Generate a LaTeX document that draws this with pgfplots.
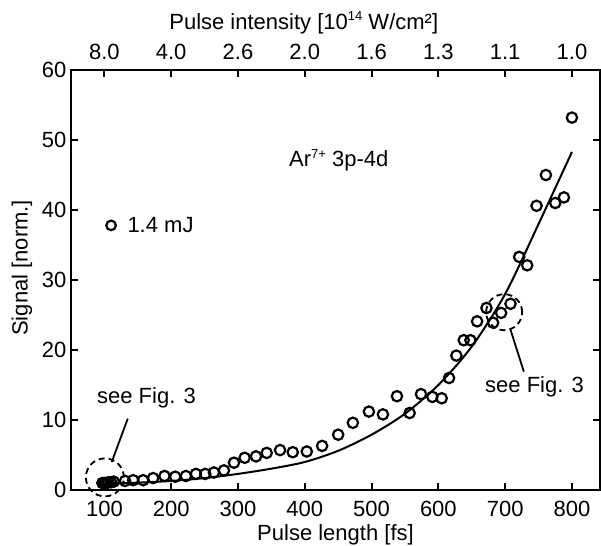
\documentclass[border=0pt]{standalone}
\usepackage{pgfplots}
\pgfplotsset{compat=1.18}
\usepackage{fontspec}
\setmainfont{Liberation Sans}
\newcommand{\sups}[1]{\raisebox{0.75ex}{\fontsize{6.5}{7}\selectfont #1}}

\begin{document}
\fontsize{11}{13}\selectfont
\begin{tikzpicture}
\pgfplotsset{
  common/.style={
    at={(0,0)}, anchor=south west,
    scale only axis, width=264.5pt, height=210pt,
    xmin=50, xmax=842, ymin=0, ymax=60,
    tick align=inside,
    major tick length=3.5pt,
    axis line style={line width=1.1pt},
    every tick/.style={line width=1pt, black},
    /pgf/number format/assume math mode=true,
    clip=false,
  }
}
\begin{axis}[common,
  xtick={100,200,...,800}, ytick={0,10,...,60},
  xtick pos=bottom, ytick pos=both, yticklabel pos=left,
  xticklabel style={yshift=-1.5pt},
  yticklabel style={xshift=1.5pt},
  xlabel={Pulse length [fs]}, ylabel={Signal [norm.]},
  xlabel style={at={(axis description cs:0.5,-0.107)}, anchor=center},
  ylabel style={at={(axis description cs:-0.0926,0.529)}, anchor=center},
]
\addplot[only marks, mark=o, mark size=2.6pt, line width=1.1pt] coordinates {
(97,1.0) (100,1.0) (103,1.0) (106,1.1) (110,1.1) (114,1.2)
(131,1.3) (143,1.4) (158,1.4) (173,1.7) (190,2.0) (206,1.9)
(222,2.0) (237,2.3) (251,2.3) (264,2.5) (279,2.8) (294,3.9)
(310,4.6) (327,4.8) (343,5.3) (363,5.7) (382,5.4) (403,5.5)
(426,6.3) (450,7.9) (472,9.6) (496,11.2) (517,10.8) (538,13.4)
(557,11.0) (574,13.7) (591,13.3) (605,13.1) (616,16.0) (627,19.2)
(638,21.4) (648,21.4) (658,24.1) (672,26.0) (682,23.9) (694,25.3)
(708,26.6) (721,33.3) (733,32.1) (747,40.6) (761,45.0) (775,41.0)
(788,41.8) (800,53.2)
};
\addplot[smooth, line width=1pt] coordinates {
(100,0.9) (150,1.05) (200,1.3) (250,1.7) (300,2.3) (350,3.05)
(400,4.0) (450,5.6) (500,7.9) (550,10.9) (600,15.0) (650,20.5)
(700,28.0) (750,38.0) (800,48.3)
};
% legend-like marker
\addplot[only marks, mark=o, mark size=2.4pt, line width=1.1pt] coordinates {(110,37.8)};
\node[anchor=west, inner sep=0pt] at (axis cs:134,37.8) {1.4 mJ};
\node at (axis cs:451,47.1) {Ar\sups{7+} 3p-4d};
% annotations
\draw[line width=0.9pt, dash pattern=on 3pt off 2pt] (axis cs:100.7,1.8) circle[radius=9.5pt];
\draw[line width=0.9pt] (axis cs:135,10.2) -- (axis cs:111,4.0);
\node at (axis cs:163,13.1) {see Fig. 3};
\draw[line width=0.9pt, dash pattern=on 3pt off 2pt] (axis cs:698.5,25.4) circle[radius=9pt];
\draw[line width=0.9pt] (axis cs:728,16.9) -- (axis cs:708,22.9);
\node at (axis cs:744,14.7) {see Fig. 3};
\node at (axis description cs:0.44,1.112) {Pulse intensity [10\sups{14} W/cm²]};
\end{axis}
\begin{axis}[common,
  axis x line*=top, hide y axis,
  xtick={100,200,...,800},
  xticklabels={8.0,4.0,2.6,2.0,1.6,1.3,1.1,1.0},
  xticklabel pos=upper,
  xticklabel style={yshift=1.5pt},
]
\addplot[draw=none, forget plot] coordinates {(100,10)};
\end{axis}
\pgfresetboundingbox
\useasboundingbox (-35.5pt,-28pt) rectangle (265pt,245pt);
\end{tikzpicture}
\end{document}
